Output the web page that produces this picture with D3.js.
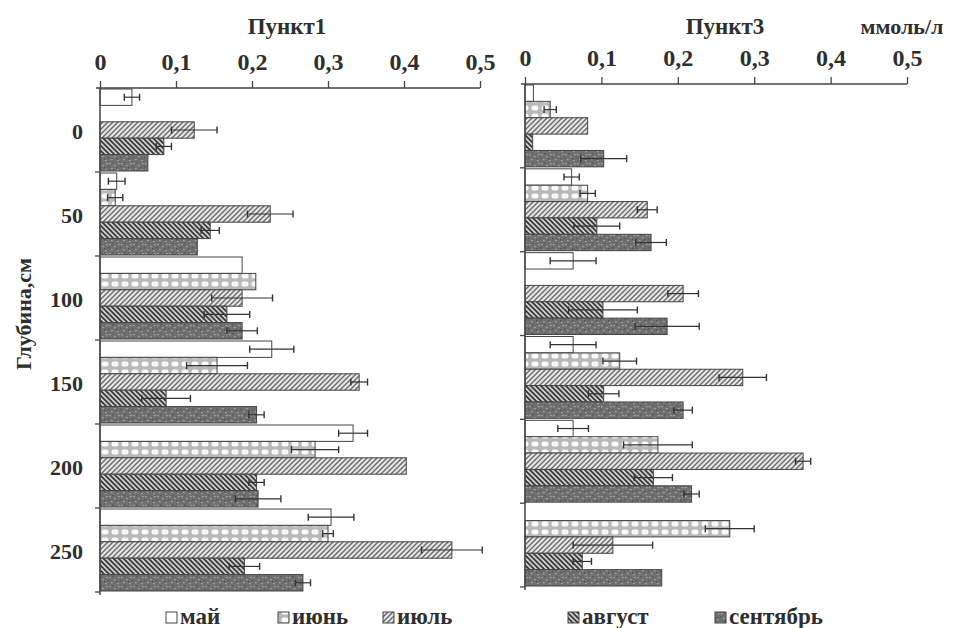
<!DOCTYPE html>
<html><head><meta charset="utf-8">
<script src="https://cdn.jsdelivr.net/npm/d3@7"></script>
<style>
body{margin:0;background:#fff;}
text{font-family:"Liberation Serif","DejaVu Serif",serif;font-weight:bold;fill:#2e2e2e;}
</style></head>
<body><svg id="c" width="953" height="628"></svg>
<script>
const depths = ["0","50","100","150","200","250"];
const months = ["май","июнь","июль","август","сентябрь"];
const xTicks = [0,0.1,0.2,0.3,0.4,0.5];

// Пункт1 values (ммоль/л), per month, per depth
const p1May  = [0.042,0.022,0.187,0.226,0.333,0.304];
const p1Jun  = [null, 0.020,0.205,0.154,0.283,0.300];
const p1Jul  = [0.124,0.224,0.187,0.341,0.403,0.463];
const p1Aug  = [0.084,0.145,0.167,0.087,0.206,0.190];
const p1Sep  = [0.063,0.128,0.187,0.206,0.208,0.267];
const p1MayE = [0.010,0.011,0,    0.029,0.019,0.030];
const p1JunE = [null, 0.010,0,    0.040,0.031,0.007];
const p1JulE = [0.030,0.030,0.040,0.011,0,    0.040];
const p1AugE = [0.010,0.012,0.030,0.032,0.010,0.020];
const p1SepE = [0,    0,    0.020,0.010,0.030,0.010];

// Пункт3 values
const p3May  = [0.011,0.061,0.063,0.063,0.063,null];
const p3Jun  = [0.033,0.082,null, 0.124,0.174,0.268];
const p3Jul  = [0.082,0.160,0.207,0.285,0.364,0.115];
const p3Aug  = [0.010,0.094,0.102,0.103,0.168,0.075];
const p3Sep  = [0.103,0.165,0.186,0.207,0.218,0.179];
const p3MayE = [0,    0.010,0.030,0.030,0.020,null];
const p3JunE = [0.008,0.010,null, 0.022,0.045,0.032];
const p3JulE = [0,    0.013,0.020,0.031,0.010,0.052];
const p3AugE = [0,    0.030,0.045,0.020,0.025,0.012];
const p3SepE = [0.030,0.020,0.042,0.012,0.010,0];

const svg = d3.select("#c");
const defs = svg.append("defs");
function pat(id,w,h,draw){const p=defs.append("pattern").attr("id",id).attr("patternUnits","userSpaceOnUse").attr("width",w).attr("height",h);draw(p);}
pat("pJun",10,8,p=>{p.append("rect").attr("width",10).attr("height",8).attr("fill","#b9b9b9");
  p.append("rect").attr("x",1.5).attr("y",1.5).attr("width",7).attr("height",5).attr("rx",2.2).attr("fill","#fafafa");});
pat("pJul",5,5,p=>{p.append("rect").attr("width",5).attr("height",5).attr("fill","#e6e6e6");
  p.append("path").attr("d","M0,5L5,0M-1,1L1,-1M4,6L6,4").attr("stroke","#6a6a6a").attr("stroke-width",1.4);});
pat("pAug",5,5,p=>{p.append("rect").attr("width",5).attr("height",5).attr("fill","#d0d0d0");
  p.append("path").attr("d","M0,0L5,5M4,-1L6,1M-1,4L1,6").attr("stroke","#3a3a3a").attr("stroke-width",1.8);});
pat("pSep",12,9,p=>{p.append("rect").attr("width",12).attr("height",9).attr("fill","#6f6f6f");
  [[1,1],[6,3],[9,7],[3,6],[10,1]].forEach(([a,b])=>p.append("rect").attr("x",a).attr("y",b).attr("width",1.6).attr("height",1.2).attr("fill","#a8a8a8"));
  [[4,0],[8,5],[0,4]].forEach(([a,b])=>p.append("rect").attr("x",a).attr("y",b).attr("width",1.4).attr("height",1.4).attr("fill","#555"));});
const fills = ["#ffffff","url(#pJun)","url(#pJul)","url(#pAug)","url(#pSep)"];

const fmt = d => d===0 ? "0" : d3.format(".1f")(d).replace(".",",");

function panel(cfg){
  const x = d3.scaleLinear().domain([0,0.5]).range([cfg.x0,cfg.x1]);
  const y = d3.scaleBand().domain(depths).range([cfg.y0,cfg.y1]).paddingInner(0).paddingOuter(0);
  const yi = d3.scaleBand().domain(months).range([1,y.bandwidth()-1]);
  const g = svg.append("g");
  const ax = g.append("g").attr("transform",`translate(0,${cfg.y0})`)
    .call(d3.axisTop(x).tickValues(xTicks).tickFormat(fmt).tickSize(7).tickSizeOuter(0));
  ax.select(".domain").attr("stroke","#444").attr("stroke-width",1.3).attr("d",`M${cfg.x0-4},0H${cfg.x1}`);
  ax.selectAll(".tick line").attr("stroke","#444").attr("stroke-width",1.3);
  ax.selectAll(".tick text").attr("font-size",24).attr("dy",-8).attr("fill","#2e2e2e")
    .attr("font-family","Liberation Serif").attr("font-weight","bold");
  cfg.vals.forEach((vals,mi)=>{
    const errs = cfg.errs[mi];
    vals.forEach((v,di)=>{
      if(v==null) return;
      const yy = y(depths[di]) + yi(months[mi]);
      const h = yi.bandwidth();
      g.append("rect").attr("x",x(0)).attr("y",yy).attr("width",x(v)-x(0)).attr("height",h)
        .attr("fill",fills[mi]).attr("stroke","#444").attr("stroke-width",1);
      const e = errs[di];
      if(e){
        const cy = yy+h/2;
        g.append("line").attr("x1",x(v-e)).attr("x2",x(v+e)).attr("y1",cy).attr("y2",cy).attr("stroke","#333").attr("stroke-width",1.2);
        [v-e,v+e].forEach(t=>g.append("line").attr("x1",x(t)).attr("x2",x(t)).attr("y1",cy-3.5).attr("y2",cy+3.5).attr("stroke","#333").attr("stroke-width",1.4));
      }
    });
  });
  g.append("line").attr("x1",x(0)).attr("x2",x(0)).attr("y1",cfg.y0).attr("y2",cfg.y1+3).attr("stroke","#444").attr("stroke-width",1.5);
  depths.concat(["end"]).forEach(d=>{
    if(d===depths[0]) return;
    const yy = d==="end" ? cfg.y1 : y(d);
    g.append("line").attr("x1",x(0)-5).attr("x2",x(0)).attr("y1",yy).attr("y2",yy).attr("stroke","#444").attr("stroke-width",1.3);
  });
  if(cfg.labels){
    const ay = g.append("g").attr("transform",`translate(${x(0)-14},0)`)
      .call(d3.axisLeft(y).tickSize(0));
    ay.select(".domain").remove();
    ay.selectAll(".tick text").attr("font-size",22).attr("fill","#2e2e2e").attr("dy","0.4em")
      .attr("font-family","Liberation Serif").attr("font-weight","bold");
  }
  g.append("text").attr("x",cfg.titleX).attr("y",cfg.titleY).attr("text-anchor","middle").attr("font-size",23).text(cfg.title);
}

panel({x0:100,x1:480,y0:88,y1:592,title:"Пункт1",titleX:287,titleY:34,labels:true,
  vals:[p1May,p1Jun,p1Jul,p1Aug,p1Sep],errs:[p1MayE,p1JunE,p1JulE,p1AugE,p1SepE]});
panel({x0:525,x1:907,y0:84,y1:587,title:"Пункт3",titleX:725,titleY:34,labels:false,
  vals:[p3May,p3Jun,p3Jul,p3Aug,p3Sep],errs:[p3MayE,p3JunE,p3JulE,p3AugE,p3SepE]});

svg.append("text").attr("x",902).attr("y",34).attr("text-anchor","middle").attr("font-size",22).text("ммоль/л");
svg.append("text").attr("transform","translate(31,314) rotate(-90)").attr("text-anchor","middle").attr("font-size",22).text("Глубина,см");

const legX = [166,278,383,568,715];
const leg = svg.append("g");
months.forEach((m,i)=>{
  leg.append("rect").attr("x",legX[i]).attr("y",612).attr("width",11).attr("height",11).attr("fill",fills[i]).attr("stroke","#444").attr("stroke-width",1);
  leg.append("text").attr("x",legX[i]+14).attr("y",624).attr("font-size",23).text(m);
});
</script></body></html>
